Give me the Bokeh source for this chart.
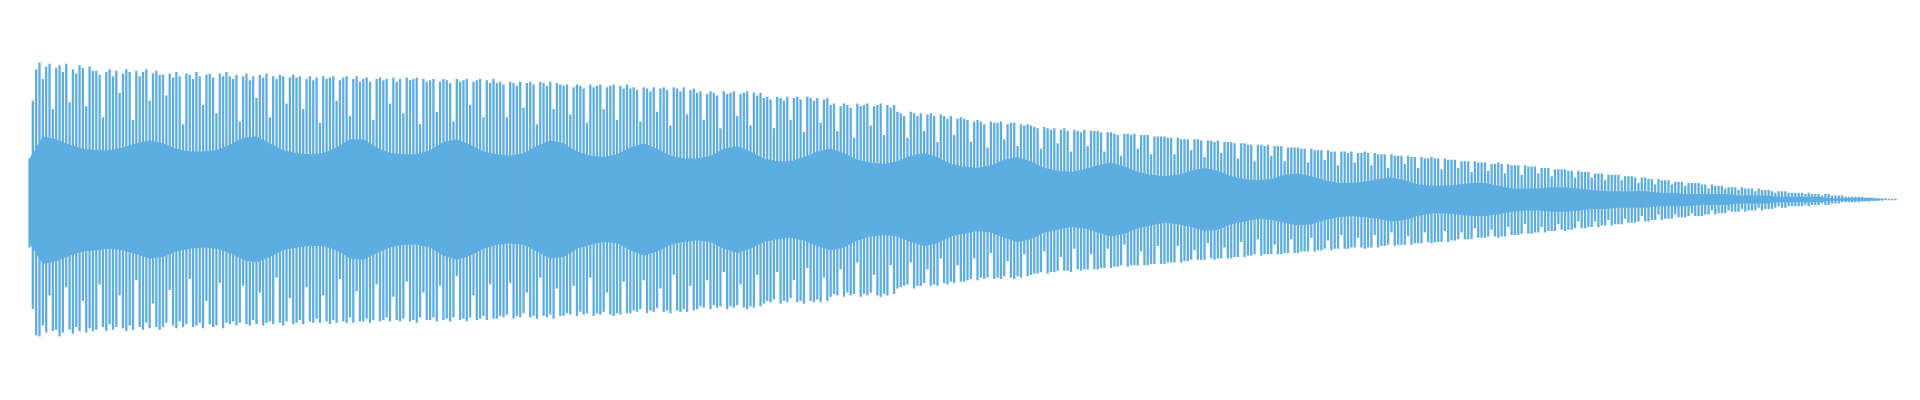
from bokeh.plotting import figure
from bokeh.models import Range1d, ColumnDataSource
from bokeh.embed import file_html
from bokeh.resources import INLINE

# Upper peak of each stroke (percent of the full amplitude)
peak_top = [
    30, 72, 95, 100, 88, 97, 99, 66, 96, 98, 93, 99, 71, 95, 92, 98, 96, 68, 97, 94,
    94, 91, 60, 93, 95, 90, 94, 78, 92, 95, 93, 58, 94, 90, 93, 95, 72, 92, 94, 91,
    91, 76, 92, 89, 93, 90, 55, 92, 91, 88, 93, 90, 69, 91, 92, 89, 63, 92, 90, 93,
    90, 88, 91, 57, 90, 92, 87, 90, 74, 91, 89, 92, 60, 90, 88, 91, 90, 70, 89, 91,
    89, 90, 66, 88, 90, 87, 89, 56, 90, 88, 89, 90, 72, 87, 89, 90, 61, 88, 90, 86,
    88, 89, 86, 58, 88, 89, 87, 88, 70, 89, 86, 88, 63, 89, 87, 88, 89, 55, 88, 86,
    87, 88, 64, 86, 88, 87, 85, 57, 88, 86, 87, 88, 69, 86, 87, 88, 60, 87, 85, 88,
    85, 86, 84, 60, 86, 85, 83, 86, 67, 85, 86, 84, 55, 86, 85, 83, 86, 66, 85, 84,
    83, 84, 62, 82, 84, 83, 81, 56, 84, 82, 83, 84, 66, 82, 83, 84, 58, 83, 81, 84,
    81, 82, 80, 57, 82, 81, 79, 82, 64, 81, 82, 80, 54, 82, 81, 79, 82, 62, 80, 81,
    78, 79, 58, 77, 79, 78, 76, 52, 79, 77, 78, 79, 61, 77, 78, 79, 54, 78, 76, 78,
    74, 75, 73, 52, 75, 74, 72, 75, 58, 74, 75, 73, 49, 75, 74, 72, 74, 56, 73, 74,
    69, 70, 50, 68, 70, 69, 67, 45, 70, 68, 69, 70, 54, 68, 69, 70, 47, 69, 67, 69,
    64, 63, 61, 45, 64, 63, 61, 63, 50, 62, 63, 61, 42, 62, 61, 59, 61, 47, 59, 60,
    59, 58, 42, 57, 58, 57, 55, 38, 57, 56, 56, 57, 44, 55, 56, 56, 39, 55, 54, 55,
    54, 53, 52, 37, 53, 52, 51, 52, 41, 51, 52, 50, 35, 51, 50, 49, 51, 39, 50, 50,
    50, 49, 35, 49, 49, 48, 47, 32, 48, 48, 47, 48, 37, 47, 47, 47, 33, 46, 46, 46,
    46, 45, 45, 33, 45, 44, 44, 44, 36, 44, 44, 43, 31, 43, 43, 42, 43, 34, 42, 42,
    42, 41, 30, 41, 41, 40, 40, 28, 40, 40, 39, 40, 32, 39, 39, 39, 28, 38, 38, 38,
    38, 37, 37, 27, 37, 36, 36, 36, 29, 36, 35, 35, 25, 35, 35, 34, 35, 27, 34, 34,
    35, 34, 25, 34, 33, 33, 33, 23, 33, 32, 32, 32, 26, 32, 31, 31, 23, 31, 30, 30,
    31, 30, 30, 22, 30, 29, 29, 29, 23, 28, 28, 28, 20, 28, 27, 27, 27, 21, 26, 26,
    27, 26, 19, 26, 25, 25, 25, 18, 25, 24, 24, 24, 19, 23, 23, 23, 17, 22, 22, 22,
    22, 21, 21, 16, 21, 20, 20, 20, 16, 19, 19, 19, 14, 18, 18, 18, 18, 14, 17, 17,
    17, 16, 12, 16, 16, 15, 15, 11, 15, 14, 14, 14, 11, 13, 13, 13, 10, 12, 12, 12,
    12, 11, 11, 8, 11, 10, 10, 10, 8, 9, 9, 9, 7, 9, 8, 8, 8, 6, 8, 7,
    7, 7, 6, 5, 6, 6, 6, 5, 5, 5, 5, 5, 4, 5, 4, 4, 4, 3, 4, 4,
    3, 3, 3, 3, 2, 2, 2, 2, 2, 2, 1.5, 1.5, 1.5, 1, 1, 1, 1, 0.5, 0.5, 0.5,
]

# Lower trough of each stroke (percent of the full amplitude)
peak_bottom = [
    -35, -80, -99, -100, -92, -97, -70, -96, -95, -100, -97, -64, -95, -98, -93, -96, -74, -97, -94, -96,
    -95, -62, -93, -96, -91, -95, -93, -70, -94, -96, -92, -95, -59, -93, -95, -90, -94, -76, -93, -95,
    -93, -90, -66, -92, -94, -89, -93, -91, -58, -93, -92, -90, -94, -74, -91, -93, -92, -61, -94, -90,
    -91, -89, -92, -90, -63, -91, -92, -88, -91, -68, -92, -90, -89, -91, -57, -90, -92, -89, -72, -91,
    -90, -88, -91, -64, -89, -90, -87, -90, -70, -89, -91, -88, -90, -58, -89, -90, -86, -90, -67, -89,
    -89, -87, -90, -88, -62, -89, -88, -86, -89, -71, -88, -89, -87, -60, -89, -88, -90, -86, -68, -88,
    -88, -86, -89, -63, -88, -87, -89, -86, -56, -88, -87, -89, -86, -70, -88, -87, -85, -88, -62, -87,
    -87, -85, -86, -84, -61, -87, -85, -86, -83, -68, -86, -85, -87, -57, -85, -86, -84, -87, -65, -85,
    -85, -83, -84, -63, -85, -82, -84, -83, -57, -85, -83, -84, -82, -68, -84, -85, -83, -84, -60, -83,
    -83, -81, -82, -80, -59, -83, -81, -82, -79, -65, -82, -81, -83, -55, -81, -82, -80, -82, -63, -81,
    -80, -78, -79, -59, -80, -77, -79, -78, -53, -80, -78, -79, -77, -62, -79, -80, -78, -79, -55, -78,
    -76, -74, -75, -73, -53, -76, -74, -75, -72, -59, -75, -74, -76, -50, -74, -75, -73, -75, -57, -74,
    -71, -69, -70, -51, -71, -68, -70, -69, -46, -71, -69, -70, -68, -55, -70, -71, -69, -70, -48, -69,
    -65, -64, -63, -62, -46, -65, -63, -63, -61, -51, -63, -62, -63, -43, -61, -62, -60, -61, -48, -60,
    -60, -59, -58, -43, -59, -57, -58, -57, -39, -58, -57, -58, -56, -45, -57, -58, -56, -57, -40, -56,
    -55, -54, -54, -53, -38, -54, -53, -53, -52, -42, -52, -52, -53, -36, -51, -52, -51, -51, -40, -51,
    -51, -50, -50, -36, -50, -49, -49, -48, -33, -49, -48, -48, -48, -38, -48, -48, -47, -47, -34, -47,
    -47, -46, -46, -46, -34, -46, -45, -45, -44, -37, -44, -44, -44, -32, -43, -44, -43, -43, -35, -43,
    -43, -42, -42, -31, -42, -41, -41, -40, -29, -41, -40, -40, -40, -33, -40, -40, -39, -39, -29, -39,
    -39, -38, -38, -38, -28, -38, -37, -37, -36, -30, -37, -36, -36, -26, -36, -36, -35, -35, -28, -35,
    -36, -35, -35, -26, -35, -34, -34, -33, -24, -34, -33, -33, -33, -27, -33, -32, -32, -32, -24, -31,
    -32, -31, -31, -31, -23, -31, -30, -30, -29, -24, -29, -29, -29, -21, -28, -28, -28, -27, -22, -27,
    -28, -27, -27, -20, -26, -26, -26, -25, -18, -25, -25, -24, -24, -20, -24, -23, -23, -23, -18, -22,
    -23, -22, -22, -21, -16, -21, -21, -20, -20, -16, -20, -19, -19, -15, -19, -18, -18, -18, -14, -17,
    -17, -17, -16, -12, -16, -16, -15, -15, -11, -15, -14, -14, -14, -11, -13, -13, -13, -12, -10, -12,
    -12, -12, -11, -11, -8, -11, -10, -10, -10, -8, -9, -9, -9, -7, -9, -8, -8, -8, -6, -8,
    -7, -7, -7, -6, -5, -6, -6, -5, -5, -5, -5, -5, -4, -5, -4, -4, -4, -3, -4, -4,
    -3, -3, -3, -2, -2, -2, -2, -2, -2, -1.5, -1.5, -1.5, -1, -1, -1, -1, -0.5, -0.5, -0.5, -0.5,
]

# Dense inner core of the waveform, read every 4th stroke
core_top = [
    30, 46, 44, 40, 37, 36, 36, 38, 41, 43, 41, 37, 35, 35, 36, 40, 45, 46, 41, 36,
    34, 33, 34, 38, 44, 44, 38, 34, 33, 33, 36, 42, 44, 40, 35, 33, 32, 34, 39, 43,
    41, 35, 32, 31, 33, 38, 41, 37, 32, 30, 30, 32, 37, 39, 35, 30, 28, 28, 31, 35,
    37, 34, 29, 27, 26, 28, 32, 34, 31, 26, 24, 23, 25, 29, 31, 28, 23, 21, 20, 22,
    25, 27, 24, 20, 18, 17, 18, 21, 23, 21, 17, 15, 14, 15, 18, 19, 17, 14, 12, 12,
    13, 15, 16, 14, 11, 10, 10, 11, 12, 12, 10, 8, 8, 8, 9, 9, 8, 7, 6, 6,
    6, 6, 5, 5, 4, 4, 4, 4, 3, 3, 3, 2, 2, 2, 2, 1, 1, 1, 1, 0,
]
core_bottom = [
    -32, -47, -45, -41, -38, -37, -36, -37, -40, -43, -42, -38, -36, -35, -36, -39, -44, -46, -42, -37,
    -35, -34, -34, -37, -43, -44, -39, -35, -33, -33, -35, -41, -44, -41, -36, -33, -32, -33, -38, -43,
    -42, -36, -33, -31, -32, -37, -41, -38, -33, -31, -30, -31, -36, -39, -36, -31, -29, -28, -30, -34,
    -37, -35, -30, -27, -26, -27, -31, -34, -32, -27, -25, -23, -24, -28, -31, -29, -24, -22, -20, -21,
    -24, -27, -25, -21, -19, -17, -18, -20, -23, -22, -18, -16, -14, -15, -17, -19, -18, -15, -13, -12,
    -13, -14, -16, -15, -12, -10, -10, -11, -12, -12, -11, -9, -8, -8, -9, -9, -8, -7, -7, -6,
    -6, -6, -5, -5, -5, -4, -4, -4, -3, -3, -3, -2, -2, -2, -2, -1, -1, -1, -1, 0,
]

n = len(peak_top)
stroke_x = list(range(n))
core_x = [4 * k for k in range(len(core_top))]

W, H = 1904, 384
left_px, right_px = 29, 1895
center_px = 199
amp_px = 137.0

ppu = (right_px - left_px) / (n - 1)
x_start = -left_px / ppu
x_end = (n - 1) + (W - right_px) / ppu
y_end = center_px / amp_px * 100
y_start = -(H - center_px) / amp_px * 100

color = "#5dade2"

p = figure(width=W, height=H, output_backend="svg", toolbar_location=None,
           x_axis_location=None, y_axis_location=None,
           x_range=Range1d(x_start, x_end), y_range=Range1d(y_start, y_end),
           min_border=0, outline_line_color=None, background_fill_color="white",
           border_fill_color="white")
p.grid.visible = False

core = ColumnDataSource(dict(x=core_x, top=core_top, bottom=core_bottom))
p.varea(x="x", y1="bottom", y2="top", source=core, fill_color=color, fill_alpha=1.0)

strokes = ColumnDataSource(dict(x=stroke_x, top=peak_top, bottom=peak_bottom))
p.segment(x0="x", y0="bottom", x1="x", y1="top", source=strokes,
          line_color=color, line_width=2.3)

open("out.html", "w").write(file_html(p, INLINE))
